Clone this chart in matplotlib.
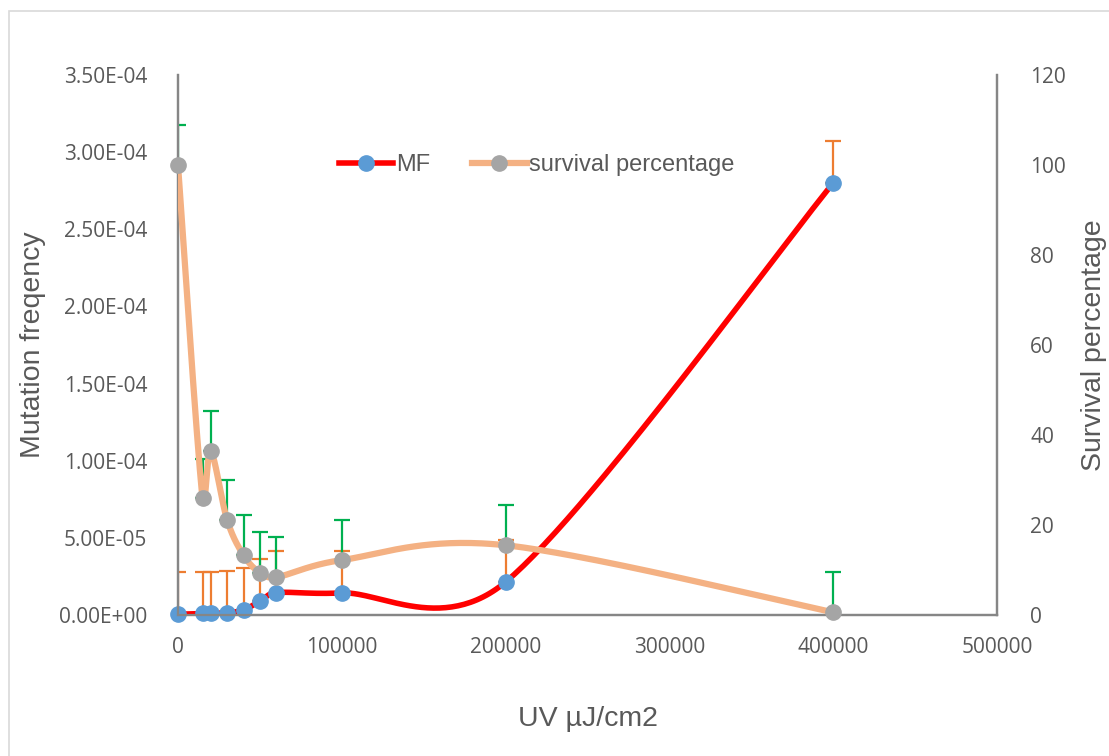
import numpy as np
import matplotlib
matplotlib.use("Agg")
import matplotlib.pyplot as plt
from matplotlib.lines import Line2D
from matplotlib.patches import Rectangle

# UV dose (µJ/cm2)
dose = [0, 15000, 20000, 30000, 40000, 50000, 60000, 100000, 200000, 400000]
# mutation frequency + upper error
mf = [5e-7, 1.0e-6, 1.0e-6, 1.5e-6, 3.2e-6, 9.0e-6, 1.45e-5, 1.43e-5, 2.14e-5, 2.80e-4]
mf_err = [2.75e-5, 2.7e-5, 2.7e-5, 2.7e-5, 2.7e-5, 2.7e-5, 2.7e-5, 2.7e-5, 2.75e-5, 2.7e-5]
# survival percentage + upper error
surv = [100, 25.9, 36.4, 21.1, 13.3, 9.4, 8.4, 12.2, 15.5, 0.6]
surv_err = [9, 8.8, 9, 9, 9, 9, 9, 9, 9, 9]

x_ticks = [0, 100000, 200000, 300000, 400000, 500000]
mf_ticks = [0, 5e-5, 1e-4, 1.5e-4, 2e-4, 2.5e-4, 3e-4, 3.5e-4]
surv_ticks = [0, 20, 40, 60, 80, 100, 120]

TICK_FONT = "Open Sans"
TEXT_FONT = "Liberation Sans"
GREY = "#595959"
AXIS = "#868686"


def excel_smooth(ax, xs, ys, n=60):
    """Smoothed line like a spreadsheet: Bezier segments built in pixel space,
    control arms 1/6 of the neighbour chord, capped at half the segment."""
    pts = ax.transData.transform(np.column_stack([xs, ys]))
    out = [pts[0]]
    t = np.linspace(0, 1, n)[1:, None]
    for i in range(len(pts) - 1):
        p1, p2 = pts[i], pts[i + 1]
        p0 = pts[i - 1] if i > 0 else p1
        p3 = pts[i + 2] if i + 2 < len(pts) else p2
        d02 = np.hypot(*(p2 - p0))
        d13 = np.hypot(*(p3 - p1))
        d12 = np.hypot(*(p2 - p1))
        f0 = 1 / 6 if d02 / 6 < d12 / 2 else d12 / 2 / d02
        f1 = 1 / 6 if d13 / 6 < d12 / 2 else d12 / 2 / d13
        b1 = p1 + (p2 - p0) * f0
        b2 = p2 - (p3 - p1) * f1
        seg = ((1 - t) ** 3 * p1 + 3 * t * (1 - t) ** 2 * b1
               + 3 * t ** 2 * (1 - t) * b2 + t ** 3 * p2)
        out.extend(seg)
    data = ax.transData.inverted().transform(np.array(out))
    return data[:, 0], data[:, 1]


fig = plt.figure(figsize=(11.09, 7.56), dpi=100)
ax = fig.add_axes([178 / 1109, 141 / 756, 819 / 1109, 540 / 756])
ax2 = ax.twinx()
ax.set_xlim(0, 500000)
ax.set_ylim(0, 3.5e-4)
ax2.set_ylim(0, 120)

# chart area frame
fig.patches.append(Rectangle((9 / 1109, -0.02), 1.05, 1 - 11 / 756 + 0.02,
                             transform=fig.transFigure, fill=False,
                             edgecolor="#d9d9d9", lw=1.2, zorder=0))

# MF series (primary axis)
ax.errorbar(dose, mf, yerr=[np.zeros(len(mf)), mf_err], fmt="none",
            ecolor="#ED7D31", elinewidth=1.6, capsize=6, capthick=1.6, zorder=2)
sx, sy = excel_smooth(ax, dose, mf)
ax.plot(sx, sy, color="#FF0000", lw=4, solid_capstyle="round", zorder=3)
ax.plot(dose, mf, "o", ms=11, color="#5B9BD5", mec="#5B9BD5", zorder=4, clip_on=False)

# survival series (secondary axis)
ax2.errorbar(dose, surv, yerr=[np.zeros(len(surv)), surv_err], fmt="none",
             ecolor="#00B050", elinewidth=1.6, capsize=6, capthick=1.6, zorder=2)
tx, ty = excel_smooth(ax2, dose, surv)
ax2.plot(tx, ty, color="#F4B183", lw=4.5, solid_capstyle="round", zorder=3)
ax2.plot(dose, surv, "o", ms=11, color="#A5A5A5", mec="#A5A5A5", zorder=4, clip_on=False)

for a in (ax, ax2):
    for s in a.spines.values():
        s.set_color(AXIS)
        s.set_linewidth(1.6)
    a.spines["top"].set_visible(False)
    a.tick_params(length=0, colors=GREY, labelsize=15)

ax.set_xticks(x_ticks)
ax.set_xticklabels([str(v) for v in x_ticks], fontfamily=TICK_FONT)
ax.set_yticks(mf_ticks)
ax.set_yticklabels([f"{v:.2E}" for v in mf_ticks], fontfamily=TICK_FONT)
ax2.set_yticks(surv_ticks)
ax2.set_yticklabels([str(v) for v in surv_ticks], fontfamily=TICK_FONT)
ax.tick_params(axis="y", pad=22)
ax.tick_params(axis="x", pad=16)
ax2.tick_params(axis="y", pad=24)

ax.set_xlabel("UV µJ/cm2", fontsize=20.5, color=GREY, fontfamily=TEXT_FONT)
ax.set_ylabel("Mutation freqency", fontsize=20.5, color=GREY, fontfamily=TEXT_FONT)
ax2.set_ylabel("Survival percentage", fontsize=20.5, color=GREY, fontfamily=TEXT_FONT)
ax.xaxis.set_label_coords(0.5, -0.169)
ax.yaxis.set_label_coords(-0.161, 0.5)
ax2.yaxis.set_label_coords(1.103, 0.5)

handles = [
    Line2D([], [], color="#FF0000", lw=4, marker="o", ms=11,
           mfc="#5B9BD5", mec="#5B9BD5"),
    Line2D([], [], color="#F4B183", lw=4.5, marker="o", ms=11,
           mfc="#A5A5A5", mec="#A5A5A5"),
]
leg = ax2.legend(handles, ["MF", "survival percentage"], loc="center",
                 bbox_to_anchor=(0.438, 0.833), ncol=2, frameon=False,
                 handlelength=2.3, handletextpad=0.1, columnspacing=1.8,
                 prop={"family": TEXT_FONT, "size": 17})
for txt in leg.get_texts():
    txt.set_color(GREY)

fig.savefig("out.png", dpi=100)
